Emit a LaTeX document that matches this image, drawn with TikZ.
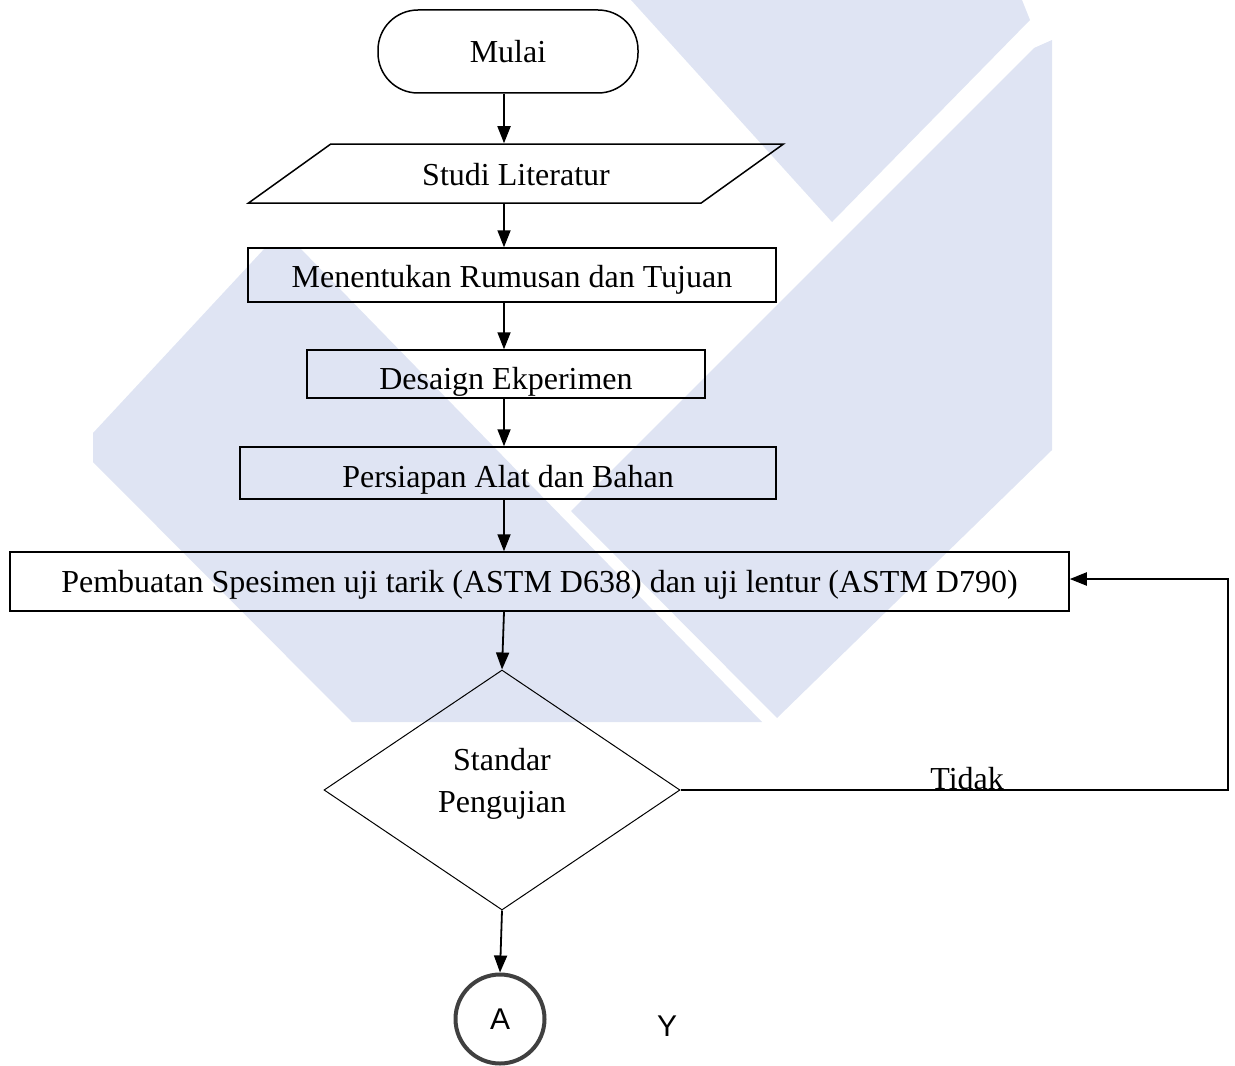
\documentclass[tikz,border=0pt]{standalone}
\usepackage{fontspec}
\setmainfont{Liberation Serif}
\newfontfamily\arialfont{Liberation Sans}
\usetikzlibrary{shapes.geometric,arrows.meta}
\definecolor{wm}{RGB}{223,228,243}
\begin{document}
\begin{tikzpicture}[x=0.5pt,y=-0.5pt,
  font=\fontsize{16}{21}\selectfont,
  box/.style={draw, line width=0.75pt, inner sep=0pt, text depth=0pt},
  arr/.style={line width=0.9pt,-{Triangle[length=8.5pt,width=6.5pt]}},
  sanslabel/.style={font=\arialfont\fontsize{15}{18}\selectfont}]
\useasboundingbox (0,0) rectangle (1235,1065);
% watermark
\fill[wm] (631,0) -- (1022,0) -- (1030,20) -- (832,222) -- cycle;
\fill[wm] (1034,48) -- (1052,40) -- (1052,450) -- (777,718) -- (571,511) -- cycle;
\fill[wm] (265,248) -- (300,248) -- (762,722) -- (352,722) -- (93,462) -- (93,433) -- cycle;
% nodes
\node[box, text height=11.5pt, rounded corners=20pt, minimum width=130pt, minimum height=41.5pt] (mulai) at (508,51.5) {Mulai};
\node[box, text height=11.5pt, trapezium, trapezium left angle=28.9, trapezium right angle=151.1, trapezium stretches, minimum width=268pt, minimum height=29.5pt] (studi) at (516,173.5) {Studi Literatur};
\node[box, text height=12pt, minimum width=264pt, minimum height=27pt] (ment) at (512,275) {Menentukan Rumusan dan Tujuan};
\node[box, text height=15pt, minimum width=199pt, minimum height=24pt] (des) at (506,374) {Desaign Ekperimen};
\node[box, text height=14pt, minimum width=268pt, minimum height=26pt] (pers) at (508,473) {Persiapan Alat dan Bahan};
\node[box, text height=10.5pt, minimum width=529.5pt, minimum height=29.5pt] (pemb) at (539.5,581.5) {Pembuatan Spesimen uji tarik (ASTM D638) dan uji lentur (ASTM D790)};
\node[draw, diamond, line width=0.5pt, inner sep=0pt, minimum width=178pt, minimum height=120pt, align=center, text height=22pt, text depth=0pt] (dia) at (502,790) {Standar\\Pengujian};
\node[circle, draw=black!75, line width=2pt, minimum size=44.5pt, inner sep=0pt, sanslabel] (A) at (500,1019) {A};
\node[sanslabel] (y) at (667,1026) {Y};
\node[anchor=base west, inner sep=0pt] (tidak) at (930,789) {Tidak};
% connectors
\coordinate (ax) at (504,0);
\draw[arr] (ax |- mulai.south) -- (ax |- studi.north);
\draw[arr] (ax |- studi.south) -- (ax |- ment.north);
\draw[arr] (ax |- ment.south) -- (ax |- des.north);
\draw[arr] (ax |- des.south) -- (ax |- pers.north);
\draw[arr] (ax |- pers.south) -- (ax |- pemb.north);
\draw[arr] (ax |- pemb.south) -- (dia.north);
\draw[arr] (dia.south) -- (A.north);
\coordinate (c1) at (1228,792);
\coordinate (c2) at (1228,579);
\draw[arr, line width=1pt] (dia.east) -- (dia.east -| c1) -- (c2) -- (c2 -| pemb.east);
\end{tikzpicture}
\end{document}
